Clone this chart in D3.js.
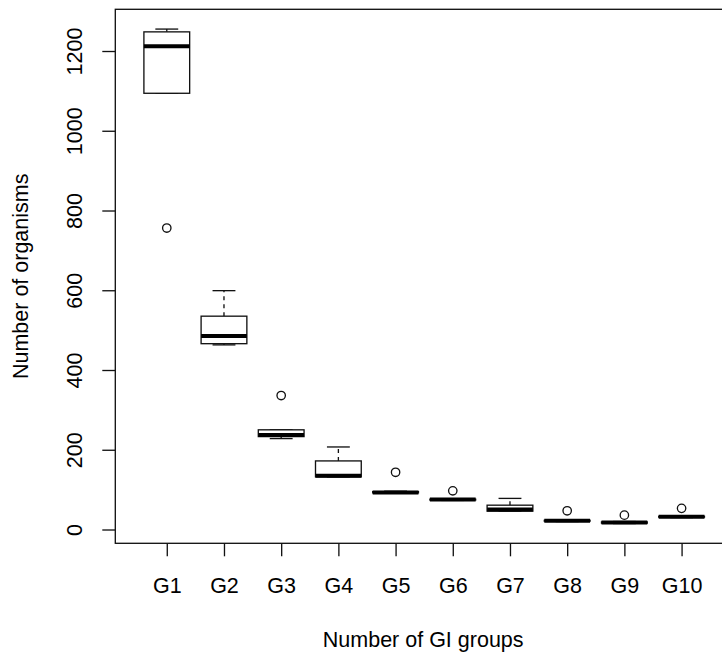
<!DOCTYPE html>
<html>
<head>
<meta charset="utf-8">
<script src="https://cdn.jsdelivr.net/npm/d3@7"></script>
<style>
  html, body { margin: 0; padding: 0; background: #fff; }
  svg { display: block; }
  text { font-family: "Liberation Sans", Arial, sans-serif; fill: #000; }
</style>
</head>
<body>
<svg id="chart" width="722" height="654"></svg>
<script>
// Box-plot statistics for each GI group
const groups       = ["G1", "G2", "G3", "G4", "G5", "G6", "G7", "G8", "G9", "G10"];
const lowerWhisker = [1094, 463, 228, 132, 91, 73, 46, 20, 15, 30];
const q1           = [1094, 466, 233, 132, 92, 74, 46, 21, 16, 31];
const median       = [1212, 485, 237, 135, 93, 75, 50, 22, 17.5, 32];
const q3           = [1248, 535, 250, 172, 95, 76, 61, 23, 19, 33];
const upperWhisker = [1255, 599, 250, 207, 96, 77, 78, 24, 20, 34];
const outliers     = [[756], [], [336], [], [143.5], [97], [], [47], [36], [53]];
const yTicks       = [0, 200, 400, 600, 800, 1000, 1200];

const xTitle = "Number of GI groups";
const yTitle = "Number of organisms";

const svg = d3.select("#chart");
const plot = { left: 115.3, top: 9.3, bottom: 543.3, unit: 57.2 };
const n = groups.length;
const fontSize = "21.5px";

// x: group positions 1..n, padded like a base-R boxplot
const x = d3.scaleLinear()
  .domain([0.1, n + 0.9])
  .range([plot.left, plot.left + (n + 0.8) * plot.unit]);

// y: data range with 4% padding on each side
const allVals = lowerWhisker.concat(upperWhisker, outliers.flat());
const lo = d3.min(allVals), hi = d3.max(allVals), pad = (hi - lo) * 0.04;
const y = d3.scaleLinear().domain([lo - pad, hi + pad]).range([plot.bottom, plot.top]);

const lw = 1.33;
const ink = "#111";
const halfBox = 0.4, halfStaple = 0.2;

const stats = groups.map((g, i) => ({
  g, i: i + 1,
  lw: lowerWhisker[i], q1: q1[i], med: median[i], q3: q3[i], uw: upperWhisker[i],
  out: outliers[i]
}));

const boxes = svg.append("g").selectAll("g").data(stats).join("g");

// dashed whiskers
boxes.append("line")
  .attr("x1", d => x(d.i)).attr("x2", d => x(d.i))
  .attr("y1", d => y(d.q3)).attr("y2", d => y(d.uw))
  .attr("stroke", ink).attr("stroke-width", lw).attr("stroke-dasharray", "4,4");
boxes.append("line")
  .attr("x1", d => x(d.i)).attr("x2", d => x(d.i))
  .attr("y1", d => y(d.q1)).attr("y2", d => y(d.lw))
  .attr("stroke", ink).attr("stroke-width", lw).attr("stroke-dasharray", "4,4");

// staples
["uw", "lw"].forEach(k => {
  boxes.append("line")
    .attr("x1", d => x(d.i - halfStaple)).attr("x2", d => x(d.i + halfStaple))
    .attr("y1", d => y(d[k])).attr("y2", d => y(d[k]))
    .attr("stroke", ink).attr("stroke-width", lw);
});

// boxes
boxes.append("rect")
  .attr("x", d => x(d.i - halfBox))
  .attr("width", d => x(d.i + halfBox) - x(d.i - halfBox))
  .attr("y", d => y(d.q3))
  .attr("height", d => y(d.q1) - y(d.q3))
  .attr("fill", "#fff").attr("stroke", ink).attr("stroke-width", lw);

// medians
boxes.append("line")
  .attr("x1", d => x(d.i - halfBox)).attr("x2", d => x(d.i + halfBox))
  .attr("y1", d => y(d.med)).attr("y2", d => y(d.med))
  .attr("stroke", "#000").attr("stroke-width", 4);

// outliers
boxes.selectAll("circle").data(d => d.out.map(v => ({ i: d.i, v }))).join("circle")
  .attr("cx", d => x(d.i)).attr("cy", d => y(d.v)).attr("r", 4.2)
  .attr("fill", "none").attr("stroke", ink).attr("stroke-width", lw);

// plot frame
svg.append("rect")
  .attr("x", plot.left).attr("y", plot.top)
  .attr("width", x.range()[1] - plot.left).attr("height", plot.bottom - plot.top)
  .attr("fill", "none").attr("stroke", ink).attr("stroke-width", lw);

// y axis
const yAxis = svg.append("g")
  .attr("transform", `translate(${plot.left},0)`)
  .call(d3.axisLeft(y).tickValues(yTicks).tickSize(13).tickFormat(d3.format("d")));
yAxis.select(".domain").remove();
yAxis.selectAll("line").attr("stroke", ink).attr("stroke-width", lw);
yAxis.selectAll("text")
  .attr("x", 0).attr("y", 0).attr("dy", 0)
  .attr("transform", "translate(-33,0) rotate(-90)")
  .attr("text-anchor", "middle")
  .style("font-size", fontSize).style("font-family", "'Liberation Sans', Arial, sans-serif");

// x axis
const xAxis = svg.append("g")
  .attr("transform", `translate(0,${plot.bottom})`)
  .call(d3.axisBottom(x).tickValues(d3.range(1, n + 1)).tickSize(13).tickFormat(d => groups[d - 1]));
xAxis.select(".domain").remove();
xAxis.selectAll("line").attr("stroke", ink).attr("stroke-width", lw);
xAxis.selectAll("text")
  .attr("y", 50).attr("dy", 0)
  .style("font-size", fontSize).style("font-family", "'Liberation Sans', Arial, sans-serif");

// axis titles
const midX = (plot.left + x.range()[1]) / 2;
svg.append("text")
  .attr("x", midX - 1).attr("y", 647)
  .attr("text-anchor", "middle").style("font-size", fontSize)
  .text(xTitle);
svg.append("text")
  .attr("transform", `translate(28,${(plot.top + plot.bottom) / 2}) rotate(-90)`)
  .attr("text-anchor", "middle").style("font-size", fontSize)
  .text(yTitle);
</script>
</body>
</html>
